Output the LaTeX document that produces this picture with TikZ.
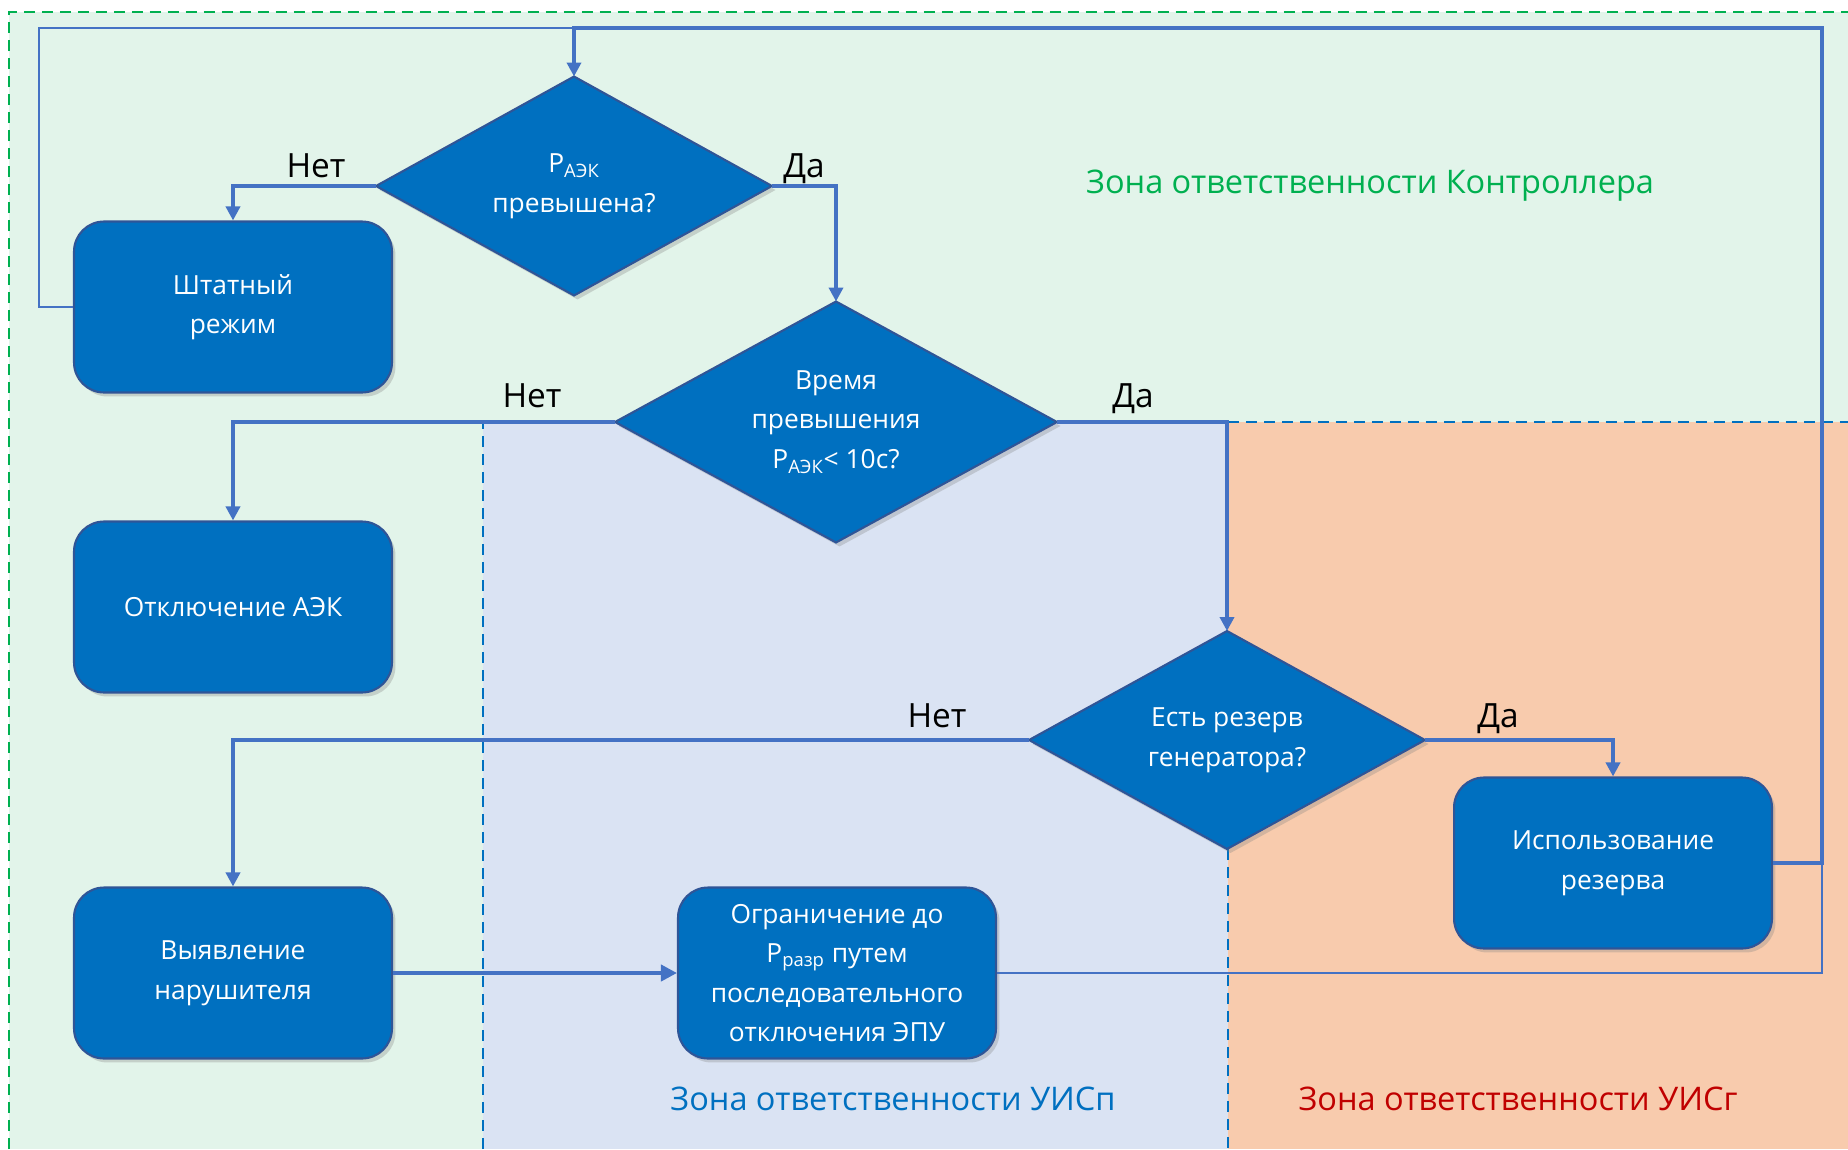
\documentclass[tikz,border=0pt]{standalone}
\usepackage{fontspec}
\setmainfont{Open Sans}
\usepackage{tikz}
\usetikzlibrary{shapes.geometric,arrows.meta,shadows}
\definecolor{zonegreen}{HTML}{E2F4EA}
\definecolor{zonelilac}{HTML}{DAE3F3}
\definecolor{zoneorange}{HTML}{F8CBAD}
\definecolor{nodefill}{HTML}{0070C0}
\definecolor{nodeedge}{HTML}{2F5597}
\definecolor{flowblue}{HTML}{4472C4}
\definecolor{ctrlgreen}{HTML}{00B050}
\definecolor{uispblue}{HTML}{0070C0}
\definecolor{uisgred}{HTML}{C00000}
\newcommand\boxfont{\fontsize{15}{22.5}\selectfont}
\newcommand\answerfont{\fontsize{19}{23}\selectfont}
\newcommand\zonefont{\fontsize{18.5}{22}\selectfont}
\tikzset{
  procbox/.style={draw=nodeedge,line width=1.2pt,fill=nodefill,rounded corners=0.6cm,
    minimum width=6.36cm,minimum height=3.42cm,text=white,align=center,font=\boxfont,
    drop shadow={shadow xshift=0.07cm,shadow yshift=-0.08cm,opacity=0.3}},
  decision/.style={diamond,aspect=1.82,draw=nodeedge,line width=1.2pt,fill=nodefill,inner sep=0pt,outer sep=0pt,
    text=white,align=center,font=\boxfont,
    drop shadow={shadow xshift=0.07cm,shadow yshift=-0.08cm,opacity=0.3}},
  flowline/.style={draw=flowblue,line width=2.2pt,-{Triangle[length=0.28cm,width=0.28cm]}},
  thinline/.style={draw=flowblue,line width=1.3pt},
  zoneline/.style={dash pattern=on 0.22cm off 0.14cm,line width=1.2pt},
  answer/.style={font=\answerfont,anchor=base},
  zonetext/.style={font=\zonefont,anchor=base},
}

\begin{document}
\begin{tikzpicture}[x=0.02cm,y=-0.02cm]
\useasboundingbox (0,0) rectangle (1848,1149);

\fill[zonegreen] (9,12) rectangle (1848,1149);
\fill[zonelilac] (483,422) rectangle (1228,1149);
\fill[zoneorange] (1228,422) rectangle (1848,1149);
\draw[ctrlgreen,zoneline,line width=1.7pt] (9,1149) -- (9,12) -- (1848,12);
\draw[uispblue,zoneline] (483,1149) -- (483,422);
\draw[uispblue,zoneline] (1228,422) -- (1848,422);
\draw[uispblue,zoneline] (1228,849) -- (1228,1149);

\node[decision,minimum width=7.92cm,minimum height=4.38cm] (limit) at (574,186)
{P\textsubscript{АЭК}\\превышена?};
\node[procbox] (normal) at (233,307) {Штатный\\режим};
\node[decision,minimum width=8.84cm,minimum height=4.82cm] (duration) at (836,422)
{Время\\превышения\\P\textsubscript{АЭК}< 10с?};
\node[procbox] (cutoff) at (233,607) {Отключение АЭК};
\node[decision,minimum width=7.92cm,minimum height=4.36cm] (reserve) at (1227,740)
{Есть резерв\\генератора?};
\node[procbox] (usereserve) at (1613,863) {Использование\\резерва};
\node[procbox] (intruder) at (233,973) {Выявление\\нарушителя};
\node[procbox] (restrict) at (837,973)
{Ограничение до\\P\textsubscript{разр} путем\\последовательного\\отключения ЭПУ};

\coordinate (loopR) at (1822,28);
\coordinate (loopL) at (39,28);

\draw[flowline] (limit.west) -| (normal.north);
\draw[flowline] (limit.east) -| (duration.north);
\draw[flowline] (duration.west) -| (cutoff.north);
\draw[flowline] (duration.east) -| (reserve.north);
\draw[flowline] (reserve.west) -| (intruder.north);
\draw[flowline] (reserve.east) -| (usereserve.north);
\draw[flowline,-{Triangle[length=0.32cm,width=0.32cm]}] (intruder.east) -- (restrict.west);
\draw[thinline] (restrict.east) -| (loopR |- usereserve.east);
\draw[thinline] (normal.west) -| (loopL) -- (limit.north |- loopL);
\draw[flowline] (usereserve.east) -| (loopR) -| (limit.north);

\node[answer] (no1) at (316,177) {Нет};
\node[answer] (yes1) at (804,177) {Да};
\node[answer] (no2) at (532,407) {Нет};
\node[answer] (yes2) at (1133,407) {Да};
\node[answer] (no3) at (937,727) {Нет};
\node[answer] (yes3) at (1498,727) {Да};

\node[zonetext,text=ctrlgreen] (ctrlzone) at (1370,193) {Зона ответственности Контроллера};
\node[zonetext,text=uispblue] (uispzone) at (893,1110) {Зона ответственности УИСп};
\node[zonetext,text=uisgred] (uisgzone) at (1518,1110) {Зона ответственности УИСг};
\end{tikzpicture}
\end{document}
